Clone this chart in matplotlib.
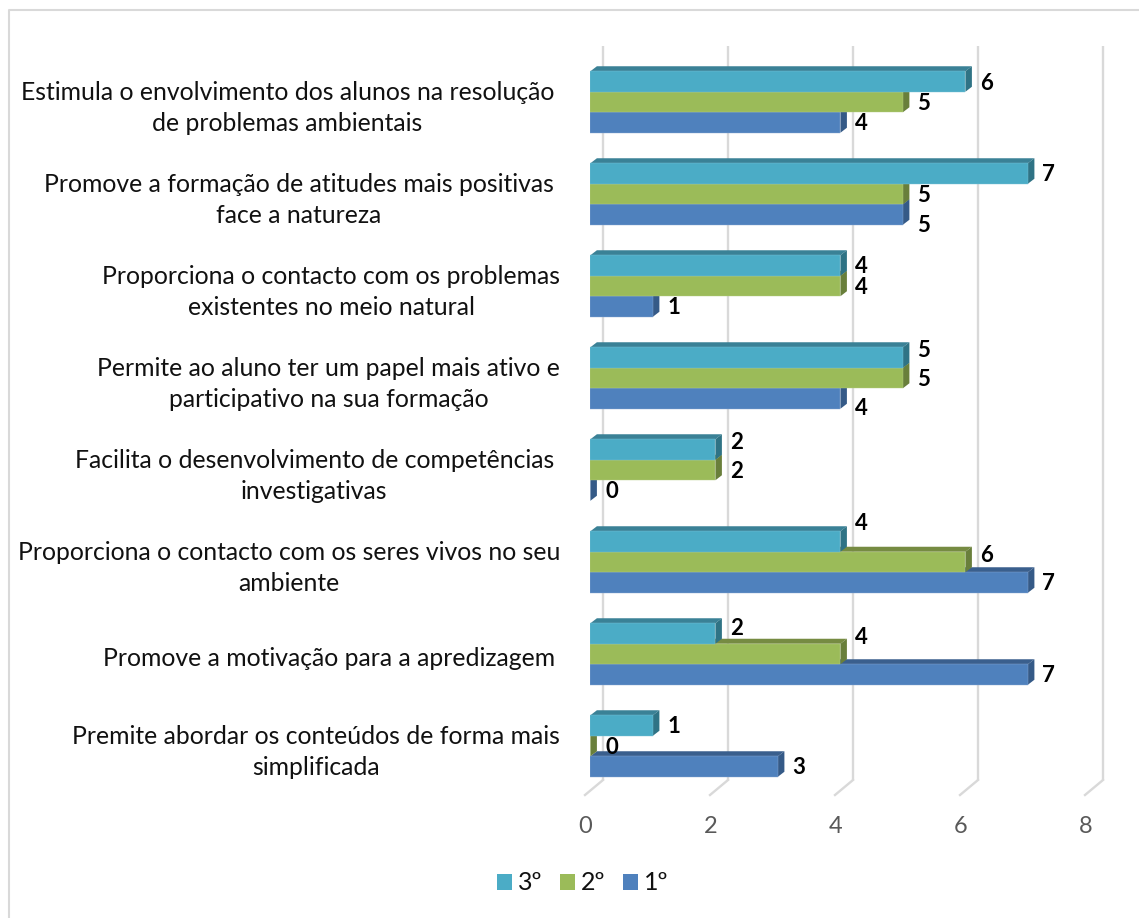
import matplotlib
matplotlib.use('Agg')
import matplotlib.pyplot as plt
from matplotlib.lines import Line2D
from matplotlib.patches import Patch, Polygon
from matplotlib.transforms import ScaledTranslation

categories = [
    'Estimula o envolvimento dos alunos na resolução\nde problemas ambientais',
    'Promove a formação de atitudes mais positivas\nface a natureza',
    'Proporciona o contacto com os problemas\nexistentes no meio natural',
    'Permite ao aluno ter um papel mais ativo e\nparticipativo na sua formação',
    'Facilita o desenvolvimento de competências\ninvestigativas',
    'Proporciona o contacto com os seres vivos no seu\nambiente',
    'Promove a motivação para a apredizagem',
    'Premite abordar os conteúdos de forma mais\nsimplificada',
]
third = [6, 7, 4, 5, 2, 4, 2, 1]
second = [5, 5, 4, 5, 2, 6, 4, 0]
first = [4, 5, 1, 4, 0, 7, 7, 3]
x_ticks = [0, 2, 4, 6, 8]
series_names = ['3º', '2º', '1º']

W, H = 1139, 918
FONT = ['Lato', 'DejaVu Sans']
plt.rcParams['font.family'] = FONT

# front, top face, side face, edge
styles = {
    '3º': ('#4BACC6', '#3A8196', '#2F7385', '#7CC4D6'),
    '2º': ('#9BBB59', '#768B42', '#697F3B', '#B5CE84'),
    '1º': ('#4F81BD', '#3A5F8D', '#355A87', '#8CAAD3'),
}

# pixel layout of the plot
X0, PX_X = 590.4, 62.5
Y0, PX_Y = 102.0, 92.0
TOP, BOTTOM = 46.0, 795.0
BAR_H = 20.5 / PX_Y
DX, DY = 6.5 / PX_X, 5.0 / PX_Y

fig = plt.figure(figsize=(W / 100, H / 100), dpi=100)
ax = fig.add_axes([X0 / W, 1 - BOTTOM / H, 8 * PX_X / W, (BOTTOM - TOP) / H])
ax.set_xlim(0, 8)
ax.set_ylim((BOTTOM - Y0) / PX_Y, (TOP - Y0) / PX_Y)
for s in ax.spines.values():
    s.set_visible(False)
ax.set_yticks([])
ax.set_xticks(x_ticks)
ax.tick_params(axis='x', length=0, pad=15, labelsize=17, labelcolor='#595959')
for lab in ax.get_xticklabels():
    lab.set_transform(lab.get_transform() + ScaledTranslation(-5.2 / 100, 0, fig.dpi_scale_trans))

# outer frame of the chart, only left and top are inside the crop
fig.add_artist(Line2D([8.5 / W, 8.5 / W, 1], [0, 1 - 9.5 / H, 1 - 9.5 / H], transform=fig.transFigure,
                      color='#D9D9D9', lw=1.5))

# back wall gridlines and their floor part
back = ax.transData + ScaledTranslation(12.6 / 100, 0, fig.dpi_scale_trans)
wall_bottom = (780 - Y0) / PX_Y
floor_bottom = (795 - Y0) / PX_Y
for t in x_ticks:
    ax.plot([t, t], [(TOP - Y0) / PX_Y, wall_bottom], transform=back, color='#D9D9D9', lw=1.7,
            zorder=1, clip_on=False, solid_capstyle='butt')
    ax.plot([t + 12.6 / PX_X, t - 5.4 / PX_X], [wall_bottom, floor_bottom], color='#D9D9D9', lw=1.7,
            zorder=1, clip_on=False)

rows = {'3º': third, '2º': second, '1º': first}
# draw from the bottom row up so upper bars cover the top face of the lower ones
for row, name in reversed(list(enumerate(series_names))):
    front, top, side, edge = styles[name]
    z = 3 + (2 - row)
    for i, v in enumerate(rows[name]):
        y1 = i + (row - 1.5) * BAR_H
        y2 = y1 + BAR_H
        ax.add_patch(Polygon([(0, y1), (v, y1), (v + DX, y1 - DY), (DX, y1 - DY)],
                             facecolor=top, edgecolor='none', zorder=z))
        ax.add_patch(Polygon([(v, y1), (v + DX, y1 - DY), (v + DX, y2 - DY), (v, y2)],
                             facecolor=side, edgecolor='none', zorder=z))
    ax.barh([i + (row - 1) * BAR_H for i in range(len(categories))], rows[name], height=BAR_H,
            color=front, edgecolor=edge, linewidth=0.3, zorder=z + 0.1)

# vertical nudges (px) of the value labels that moved off their bar
nudges = {
    '3º': [2, 1, 1, -7, -7, -18, -5, 1],
    '2º': [2, 2, 2, 2, 2, -7, -17, 1],
    '1º': [1, 11, 1, 10, 1, 1, 1, 1],
}
for row, name in enumerate(series_names):
    for i, v in enumerate(rows[name]):
        y = i + (row - 1) * BAR_H + nudges[name][i] / PX_Y
        ax.text(v + 21 / PX_X, y, str(v), ha='center', va='center', fontsize=16,
                fontweight='bold', color='black', zorder=10)

# category labels, right edge of the longest line as in the reference
right_edges = [554, 554, 560, 560, 554, 560, 555, 560]
for i, label in enumerate(categories):
    nudge = 6 if '\n' in label else 4
    ax.text(0, i + nudge / PX_Y, label, ha='right', va='center', multialignment='center',
            fontsize=17.8, color='#111111', linespacing=1.42, zorder=10,
            transform=ax.transData + ScaledTranslation((right_edges[i] - X0) / 100, 0, fig.dpi_scale_trans))

handles = [Patch(facecolor=styles[n][0], edgecolor='none', label=n) for n in series_names]
fig.legend(handles=handles, loc='center', bbox_to_anchor=(582.5 / W, 1 - 883 / H), ncol=3, frameon=False,
           fontsize=18, handlelength=0.6, handleheight=0.6, handletextpad=0.26, columnspacing=0.68,
           labelcolor='#111111')

fig.savefig('out.png', dpi=100)
